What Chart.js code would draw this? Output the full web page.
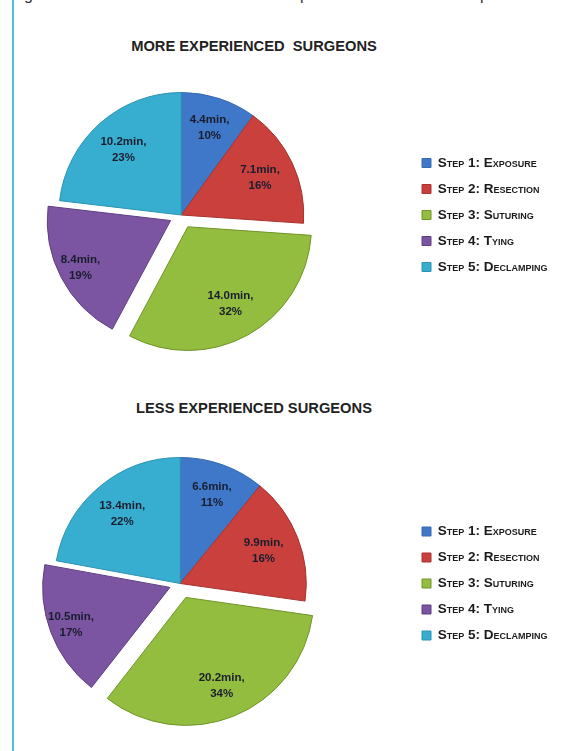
<!DOCTYPE html>
<html>
<head>
<meta charset="utf-8">
<script src="https://cdn.jsdelivr.net/npm/chart.js@4.4.1/dist/chart.umd.min.js"></script>
<style>
  html, body { margin: 0; padding: 0; background: #ffffff; }
  body { width: 567px; height: 751px; position: relative; overflow: hidden; font-family: "Liberation Sans", Arial, sans-serif; }
  .rule { position: absolute; left: 12px; top: 0; width: 2px; height: 751px; background: #4cc3dd; }
  .frag { position: absolute; top: -13px; font-size: 16px; line-height: 16px; color: #333; }
  .title { position: absolute; left: 0; width: 508px; text-align: center; font-weight: bold; font-size: 14.7px; color: #222; white-space: pre; }
  canvas { position: absolute; }
</style>
</head>
<body>
<div class="rule"></div>
<div class="frag" style="left:24px">g</div>
<div class="frag" style="left:300px">p</div>
<div class="frag" style="left:480px">p</div>
<div class="title" style="top:38px">MORE EXPERIENCED  SURGEONS</div>
<div class="title" style="top:400px">LESS EXPERIENCED SURGEONS</div>
<canvas id="c1" width="614" height="300" style="left:-47px; top:65px"></canvas>
<canvas id="c2" width="616" height="313" style="left:-49px; top:427px"></canvas>
<script>
// ---- data ----
const categories = ['Step 1: Exposure', 'Step 2: Resection', 'Step 3: Suturing', 'Step 4: Tying', 'Step 5: Declamping'];
const moreMinutes = [4.4, 7.1, 14.0, 8.4, 10.2];
const morePercent = [10, 16, 32, 19, 23];
const lessMinutes = [6.6, 9.9, 20.2, 10.5, 13.4];
const lessPercent = [11, 16, 34, 17, 22];

// ---- styles ----
const sliceColors = ['#3f78c8', '#c9403c', '#93bd3f', '#7b55a2', '#37aed0'];
const sliceBorders = ['#346aae', '#a8332f', '#6f9428', '#5e3f82', '#2b93b2'];
const LEGEND_W = 157.5;

const legendWidthFix = {
  id: 'legendWidthFix',
  beforeLayout(chart) {
    const lg = chart.legend;
    if (lg && !lg.__fixed) {
      const fit = lg.fit;
      lg.fit = function () { fit.call(this); this.width = LEGEND_W; };
      lg.__fixed = true;
    }
  }
};

const sliceLabels = {
  id: 'sliceLabels',
  afterDatasetsDraw(chart, args, opts) {
    const ctx = chart.ctx;
    const meta = chart.getDatasetMeta(0);
    const ds = chart.data.datasets[0];
    ctx.save();
    ctx.font = 'bold 11.5px "Liberation Sans", Arial, sans-serif';
    ctx.fillStyle = '#1a1d2e';
    ctx.textAlign = 'center';
    ctx.textBaseline = 'middle';
    meta.data.forEach((arc, i) => {
      const p = arc.getProps(['x', 'y', 'startAngle', 'endAngle', 'outerRadius'], true);
      const mid = (p.startAngle + p.endAngle) / 2;
      const off = (arc.options.offset || 0) / 4;
      const rr = p.outerRadius * opts.radius[i] + off;
      const lx = p.x + Math.cos(mid) * rr;
      const ly = p.y + Math.sin(mid) * rr;
      ctx.fillText(ds.data[i].toFixed(1) + 'min,', lx, ly - 8);
      ctx.fillText(opts.percents[i] + '%', lx, ly + 8);
    });
    ctx.restore();
  }
};

function makePie(id, minutes, percents, offsets, radii) {
  return new Chart(document.getElementById(id), {
    type: 'pie',
    data: {
      labels: categories,
      datasets: [{
        data: minutes,
        backgroundColor: sliceColors,
        borderColor: sliceBorders,
        borderWidth: 1,
        offset: offsets
      }]
    },
    options: {
      responsive: false,
      animation: false,
      devicePixelRatio: 1,
      layout: { padding: 0 },
      plugins: {
        tooltip: { enabled: false },
        title: { display: false },
        legend: {
          position: 'right',
          align: 'center',
          labels: {
            boxWidth: 9,
            boxHeight: 9,
            padding: 12.5,
            color: '#1a1a1a',
            font: { family: '"Liberation Sans", Arial, sans-serif', size: 13.5, weight: 'small-caps bold' }
          }
        },
        sliceLabels: { percents: percents, radius: radii }
      }
    },
    plugins: [legendWidthFix, sliceLabels]
  });
}

makePie('c1', moreMinutes, morePercent, [0, 0, 54, 48, 0], [0.75, 0.71, 0.72, 0.83, 0.71]);
makePie('c2', lessMinutes, lessPercent, [0, 0, 60, 44, 0], [0.75, 0.71, 0.76, 0.84, 0.72]);
</script>
</body>
</html>
